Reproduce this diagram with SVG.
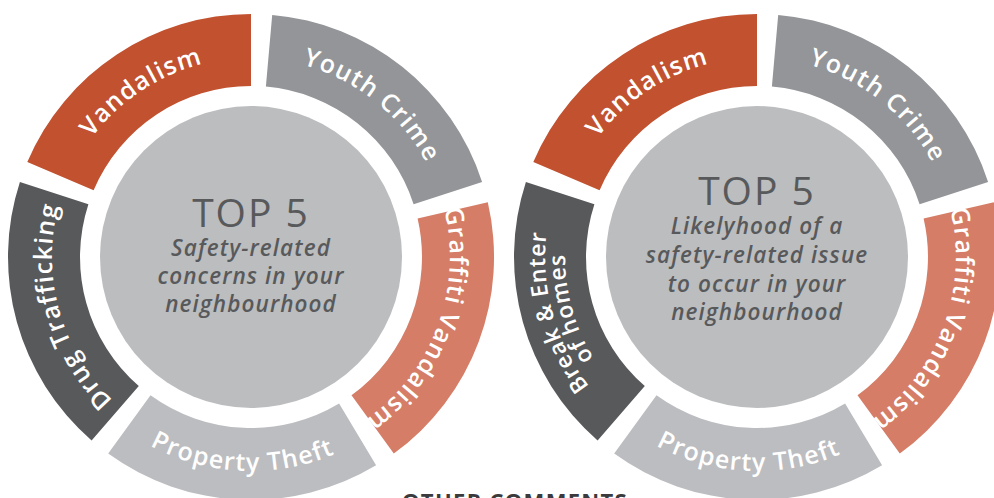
<svg xmlns="http://www.w3.org/2000/svg" xmlns:xlink="http://www.w3.org/1999/xlink" width="994" height="498" viewBox="0 0 994 498">
<style>
.van{fill:#C1512F}
.you{fill:#939598}
.gra{fill:#D57D66}
.pro{fill:#BCBDC0}
.drk{fill:#58595B}
.hub{fill:#BCBDBF}
.lbl{font-family:"Open Sans","Liberation Sans",sans-serif;font-weight:600;font-size:25px;letter-spacing:1.2px;fill:#FFFFFF}
.lbl2{font-family:"Open Sans","Liberation Sans",sans-serif;font-weight:600;font-size:23px;letter-spacing:0.8px;fill:#FFFFFF}
.top{font-family:"Open Sans","Liberation Sans",sans-serif;font-weight:500;font-size:39px;letter-spacing:2px;fill:#58595B;text-anchor:middle}
.sub{font-family:"Open Sans","Liberation Sans",sans-serif;font-weight:600;font-style:italic;font-size:22.5px;letter-spacing:1.1px;fill:#58595B;text-anchor:middle}
.oc{font-family:"Open Sans","Liberation Sans",sans-serif;font-weight:700;font-size:22px;letter-spacing:1.3px;fill:#3A3A3C;text-anchor:middle}
</style>
<defs>
<path id="tv" d="M-193.5,46.4 A199,199 0 0 1 118.4,-160.0"/>
<path id="ty" d="M-104.0,-169.7 A199,199 0 0 1 188.7,63.1"/>
<path id="tg" d="M129.2,-151.3 A199,199 0 0 1 -1.7,199"/>
<path id="td" d="M-15.6,198.4 A199,199 0 0 1 -115.6,-162.0"/>
<path id="tp" d="M-204.1,64.4 A214,214 0 0 0 197.7,81.9"/>
<path id="tb1" d="M-16.6,211.3 A212,212 0 0 1 -123.1,-172.6"/>
<path id="tb2" d="M-15.1,191.4 A192,192 0 0 1 -111.5,-156.3"/>
<path id="sv" d="M0,-243 A243,243 0 0 0 -223.7,-94.9 L-157.4,-66.8 A171,171 0 0 1 0,-171 Z"/>
<path id="sd" d="M-231.1,-75.1 A243,243 0 0 0 -159.4,183.4 L-112.2,129.1 A171,171 0 0 1 -162.6,-52.8 Z"/>
<path id="sp" d="M-142.8,196.6 A243,243 0 0 0 125.1,208.3 L88.1,146.6 A171,171 0 0 1 -100.5,138.3 Z"/>
<path id="sg" d="M142.8,196.6 A243,243 0 0 0 236.8,-54.7 L166.6,-38.5 A171,171 0 0 1 100.5,138.3 Z"/>
<path id="sy" d="M231.1,-75.1 A243,243 0 0 0 21.2,-242.1 L14.9,-170.4 A171,171 0 0 1 162.6,-52.8 Z"/>
</defs>
<rect width="994" height="498" fill="#FFFFFF"/>

<g id="chart-left" transform="translate(251,257)">
  <g id="left-vandalism"><use href="#sv" class="van"/><text class="lbl"><textPath href="#tv" startOffset="50%" text-anchor="middle">Vandalism</textPath></text></g>
  <g id="left-youth-crime"><use href="#sy" class="you"/><text class="lbl"><textPath href="#ty" startOffset="50%" text-anchor="middle">Youth Crime</textPath></text></g>
  <g id="left-graffiti"><use href="#sg" class="gra"/><text class="lbl"><textPath href="#tg" startOffset="50%" text-anchor="middle">Graffiti Vandalism</textPath></text></g>
  <g id="left-property-theft"><use href="#sp" class="pro"/><text class="lbl"><textPath href="#tp" startOffset="50%" text-anchor="middle">Property Theft</textPath></text></g>
  <g id="left-drug"><use href="#sd" class="drk"/><text class="lbl"><textPath href="#td" startOffset="50%" text-anchor="middle">Drug Trafficking</textPath></text></g>
  <g id="left-hub">
    <circle r="151" class="hub"/>
    <text class="top" x="0" y="-30">TOP 5</text>
    <text class="sub" x="0" y="-1">Safety-related</text>
    <text class="sub" x="0" y="27">concerns in your</text>
    <text class="sub" x="0" y="55">neighbourhood</text>
  </g>
</g>

<g id="chart-right" transform="translate(757,257)">
  <g id="right-vandalism"><use href="#sv" class="van"/><text class="lbl"><textPath href="#tv" startOffset="50%" text-anchor="middle">Vandalism</textPath></text></g>
  <g id="right-youth-crime"><use href="#sy" class="you"/><text class="lbl"><textPath href="#ty" startOffset="50%" text-anchor="middle">Youth Crime</textPath></text></g>
  <g id="right-graffiti"><use href="#sg" class="gra"/><text class="lbl"><textPath href="#tg" startOffset="50%" text-anchor="middle">Graffiti Vandalism</textPath></text></g>
  <g id="right-property-theft"><use href="#sp" class="pro"/><text class="lbl"><textPath href="#tp" startOffset="50%" text-anchor="middle">Property Theft</textPath></text></g>
  <g id="right-break-enter"><use href="#sd" class="drk"/>
    <text class="lbl2"><textPath href="#tb1" startOffset="50%" text-anchor="middle">Break &amp; Enter</textPath></text>
    <text class="lbl2"><textPath href="#tb2" startOffset="50%" text-anchor="middle">of homes</textPath></text>
  </g>
  <g id="right-hub">
    <circle r="151" class="hub"/>
    <text class="top" x="0" y="-52">TOP 5</text>
    <text class="sub" x="0" y="-23">Likelyhood of a</text>
    <text class="sub" x="0" y="6">safety-related issue</text>
    <text class="sub" x="0" y="35">to occur in your</text>
    <text class="sub" x="0" y="63">neighbourhood</text>
  </g>
</g>

<g id="connectors"></g>
<text id="other-comments" class="oc" x="515" y="509">OTHER COMMENTS</text>
</svg>
